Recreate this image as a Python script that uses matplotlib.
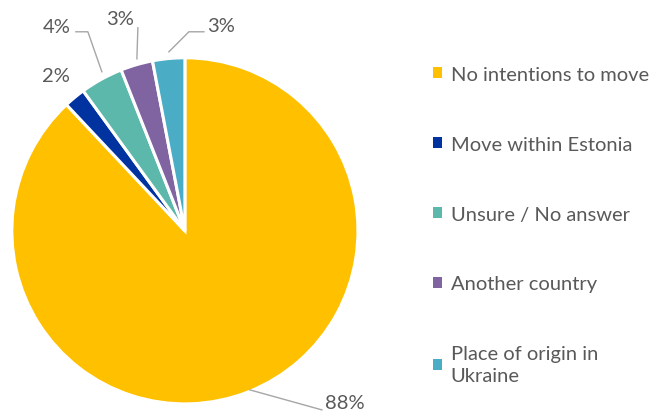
import matplotlib.pyplot as plt
from matplotlib.patches import Patch

# data
labels = ["No intentions to move", "Move within Estonia", "Unsure / No answer",
          "Another country", "Place of origin in\nUkraine"]
values = [88, 2, 4, 3, 3]
colors = ["#FFC000", "#0033A0", "#5BB8AA", "#8064A2", "#4BACC6"]
pct_text = ["88%", "2%", "4%", "3%", "3%"]

plt.rcParams['font.family'] = ['Lato', 'DejaVu Sans']
txt_col = "#595959"

fig = plt.figure(figsize=(6.58, 4.14), dpi=100)
ax = fig.add_axes([0.018, 0.022, 0.526, 0.836])
wedges, _ = ax.pie(values, colors=colors, startangle=90, counterclock=False,
                   wedgeprops=dict(edgecolor="white", linewidth=2.2))
ax.set_xlim(-1, 1)
ax.set_ylim(-1, 1)
ax.set_aspect("auto")
ax.axis("off")


def px(x, y):
    # pixel -> data coords of the pie axes
    return ((x - 185) / 173.0, (232 - y) / 173.0)


fs = 14.5
# 88% with leader line
ax.plot(*zip(px(250, 391), px(322, 411)), color="#A6A6A6", lw=1, clip_on=False)
ax.text(*px(325, 404), pct_text[0], fontsize=fs, color=txt_col, va="center", ha="left")
# 2%
ax.text(*px(56, 77), pct_text[1], fontsize=fs, color=txt_col, va="center", ha="center")
# 4%
ax.plot(*zip(px(76, 33), px(88, 33), px(102, 73)), color="#A6A6A6", lw=1, clip_on=False)
ax.text(*px(57, 28), pct_text[2], fontsize=fs, color=txt_col, va="center", ha="center")
# 3% (another country)
ax.plot(*zip(px(138, 29), px(137, 60)), color="#A6A6A6", lw=1, clip_on=False)
ax.text(*px(120, 20), pct_text[3], fontsize=fs, color=txt_col, va="center", ha="center")
# 3% (place of origin)
ax.plot(*zip(px(204, 33), px(189, 33), px(169, 53)), color="#A6A6A6", lw=1, clip_on=False)
ax.text(*px(221, 27), pct_text[4], fontsize=fs, color=txt_col, va="center", ha="center")

# legend
handles = [Patch(facecolor=c, edgecolor="none") for c in colors]
leg = fig.legend(handles, labels, loc="upper left", bbox_to_anchor=(0.63, 0.882),
                 frameon=False, fontsize=fs, handlelength=0.45, handleheight=0.45,
                 handletextpad=0.45, labelspacing=2.62, labelcolor=txt_col)
for t in leg.get_texts():
    t.set_linespacing(1.35)

fig.savefig("out.png", dpi=100)
